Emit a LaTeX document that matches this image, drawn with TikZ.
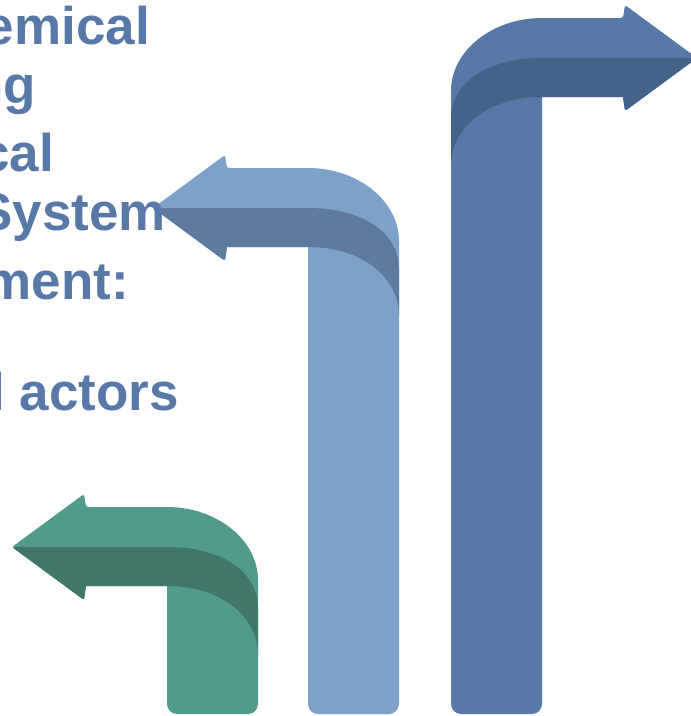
\documentclass[tikz,border=0pt]{standalone}
\usepackage{fontspec}
\setmainfont{Liberation Sans}

\definecolor{textblue}{HTML}{5878A8}
\definecolor{greenlight}{HTML}{529B8C}
\definecolor{greendark}{HTML}{41766A}
\definecolor{skylight}{HTML}{7DA1C9}
\definecolor{skydark}{HTML}{5E7B9F}
\definecolor{bluelight}{HTML}{5879A8}
\definecolor{bluedark}{HTML}{45628A}

\begin{document}
\begin{tikzpicture}[
        x=1pt, y=-1pt,
        textline/.style={
            anchor=base east,
            inner sep=0pt,
            text=textblue,
            font=\fontsize{53}{61}\selectfont\bfseries
        },
        % bent arrow, tip at the origin; #3 = where the bar ends
        pics/turnarrow/.style n args={3}{code={
            \fill[#1, rounded corners=2.5pt] (0,0) -- (72,-53) -- (74,-40) [sharp corners] -- (155,-40)
                .. controls (205,-40) and (246,-7) .. (246,33)
                [rounded corners=10pt] -- (246,#3) -- (155,#3) [sharp corners] -- (155,39)
                -- (74,39) [rounded corners=2.5pt] -- (72,53) -- cycle;
            \fill[#2, rounded corners=2.5pt] (0,0) [sharp corners] -- (155,0)
                .. controls (210,0) and (246,25) .. (246,61) -- (246,108)
                .. controls (246,70) and (210,39) .. (155,39) -- (74,39) [rounded corners=2.5pt] -- (72,53) -- cycle;
        }}
    ]
    \useasboundingbox (0,0) rectangle (691,716);

    % --- Arrows ---
    \pic at (12,547) {turnarrow={greenlight}{greendark}{167}};
    \pic at (153,208) {turnarrow={skylight}{skydark}{506}};
    \pic[xscale=-1] at (697,58) {turnarrow={bluelight}{bluedark}{656}};

    % --- Text ---
    \node[textline] (chem) at (150,44) {emical};
    \node[textline] (ing) at (36,103) {ng};
    \node[textline] (logic) at (54,171) {cal};
    \node[textline] (sys) at (166,230) {System};
    \node[textline] (mgmt) at (129,299) {ment:};
    \node[textline] (actors) at (179,410) {l actors};

\end{tikzpicture}
\end{document}
